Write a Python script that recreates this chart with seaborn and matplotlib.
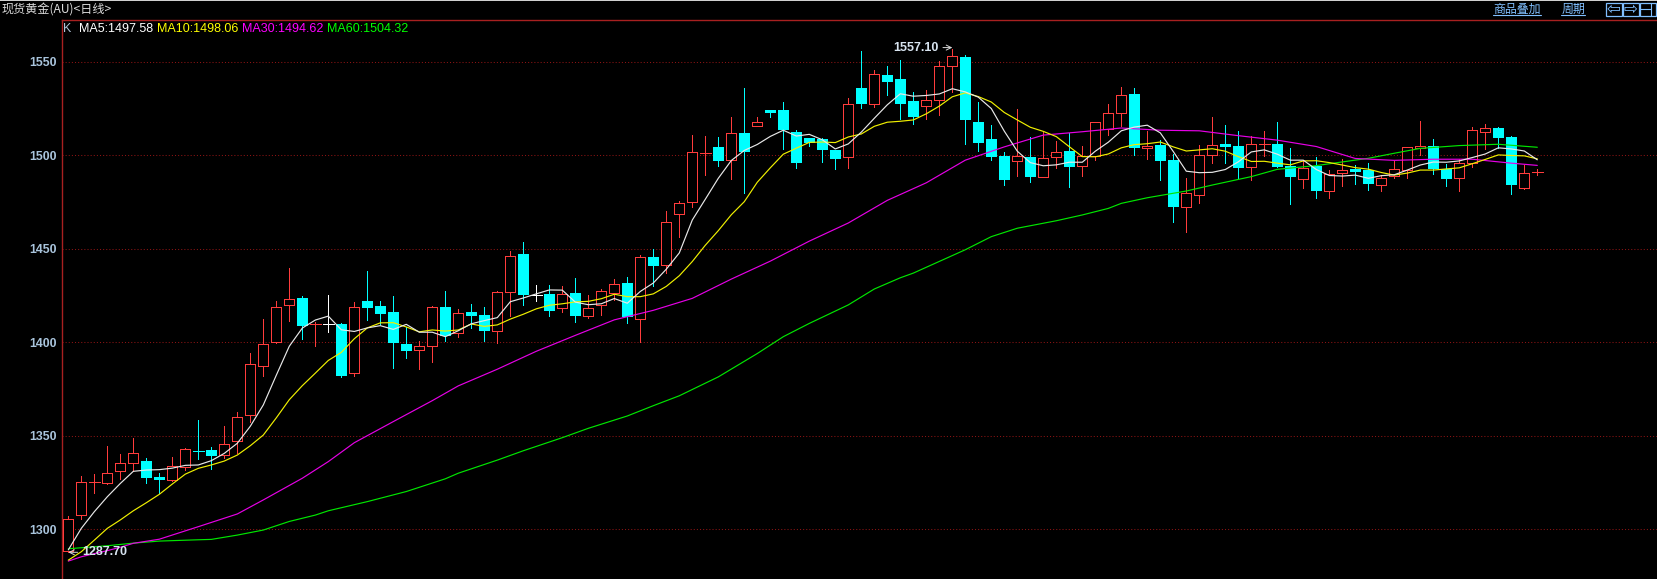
import matplotlib
matplotlib.use("Agg")
import matplotlib.pyplot as plt
from matplotlib.patches import Rectangle
import numpy as np
import pandas as pd
import seaborn as sns

# daily candles
opens = [1288.2, 1307.4, 1325.1, 1324.9, 1331.0, 1335.2, 1336.5, 1327.9, 1326.5, 1333.5,
         1341.8, 1342.2, 1339.9, 1347.0, 1360.9, 1387.1, 1400.3, 1419.8, 1423.5, 1409.6,
         1409.6, 1409.8, 1383.8, 1422.1, 1419.4, 1416.2, 1399.1, 1395.7, 1397.8, 1418.7,
         1404.8, 1416.2, 1414.6, 1406.2, 1426.7, 1447.2, 1425.1, 1425.8, 1418.2, 1426.4,
         1414.2, 1419.8, 1426.5, 1431.7, 1412.6, 1445.6, 1441.2, 1468.8, 1474.8, 1501.0,
         1504.4, 1497.7, 1511.9, 1515.8, 1524.2, 1524.2, 1512.5, 1509.3, 1508.7, 1502.8,
         1499.3, 1536.0, 1527.6, 1543.0, 1540.8, 1529.0, 1526.5, 1529.7, 1547.6, 1552.6,
         1517.8, 1508.7, 1499.6, 1497.1, 1499.1, 1488.6, 1499.3, 1502.3, 1494.5, 1499.5,
         1514.1, 1522.8, 1532.8, 1504.0, 1505.5, 1497.5, 1472.5, 1479.0, 1500.0, 1506.0,
         1505.0, 1493.9, 1505.9, 1506.0, 1494.3, 1487.5, 1494.3, 1481.1, 1490.4, 1492.7,
         1492.1, 1484.3, 1489.1, 1492.3, 1503.7, 1505.0, 1492.7, 1488.0, 1495.7, 1512.6,
         1514.6, 1509.8, 1482.7, 1491.3]
closes = [1305.3, 1325.1, 1325.1, 1329.9, 1335.2, 1340.6, 1327.6, 1326.3, 1333.6, 1342.7,
          1341.8, 1339.3, 1345.8, 1360.2, 1388.2, 1398.9, 1419.1, 1423.0, 1408.9, 1409.6,
          1409.6, 1382.2, 1418.7, 1418.5, 1415.3, 1399.8, 1395.5, 1397.8, 1418.7, 1403.4,
          1415.5, 1414.0, 1406.2, 1426.7, 1446.0, 1425.5, 1425.1, 1416.9, 1426.0, 1414.2,
          1418.5, 1427.3, 1431.0, 1413.7, 1445.4, 1441.0, 1464.2, 1474.6, 1501.6, 1501.0,
          1497.0, 1511.7, 1501.8, 1517.6, 1522.6, 1513.5, 1495.9, 1506.6, 1502.8, 1498.0,
          1527.3, 1527.4, 1543.3, 1539.2, 1527.4, 1520.5, 1529.4, 1547.6, 1552.9, 1518.9,
          1506.6, 1499.1, 1486.8, 1499.5, 1488.4, 1498.4, 1501.6, 1493.8, 1499.5, 1517.6,
          1522.4, 1532.1, 1503.9, 1504.9, 1497.0, 1472.4, 1479.7, 1500.0, 1505.3, 1504.4,
          1493.2, 1505.9, 1505.9, 1493.7, 1488.4, 1493.0, 1480.9, 1490.0, 1492.0, 1491.1,
          1484.6, 1487.9, 1492.5, 1504.3, 1504.8, 1492.7, 1487.3, 1495.7, 1513.3, 1514.4,
          1509.4, 1484.1, 1490.4, 1491.3]
highs = [1307.1, 1328.5, 1329.4, 1344.5, 1340.2, 1348.8, 1338.1, 1329.9, 1338.5, 1343.3,
         1358.2, 1343.8, 1355.2, 1362.5, 1394.1, 1412.4, 1422.1, 1439.7, 1424.8, 1411.0,
         1425.3, 1410.2, 1421.5, 1437.9, 1422.1, 1424.8, 1408.4, 1400.5, 1419.4, 1427.4,
         1417.8, 1420.5, 1418.7, 1427.4, 1448.8, 1453.5, 1430.6, 1430.6, 1430.1, 1434.2,
         1425.3, 1428.3, 1433.7, 1434.9, 1446.7, 1449.9, 1470.0, 1475.5, 1510.8, 1510.3,
         1509.8, 1520.5, 1536.0, 1520.5, 1524.2, 1528.5, 1513.5, 1509.3, 1509.3, 1502.8,
         1530.5, 1555.8, 1545.6, 1547.8, 1551.0, 1533.9, 1534.9, 1550.4, 1557.1, 1553.6,
         1528.5, 1516.2, 1501.8, 1524.8, 1509.8, 1512.6, 1507.7, 1512.0, 1505.0, 1517.6,
         1527.4, 1536.5, 1536.0, 1513.0, 1508.2, 1500.7, 1487.9, 1505.5, 1520.5, 1516.2,
         1513.0, 1510.3, 1513.0, 1517.8, 1503.9, 1497.5, 1499.1, 1492.1, 1498.0, 1494.8,
         1495.9, 1489.5, 1497.0, 1504.3, 1518.3, 1508.7, 1495.3, 1498.0, 1515.1, 1516.7,
         1515.1, 1510.3, 1494.8, 1492.7]
lows = [1287.7, 1305.7, 1319.6, 1324.2, 1326.9, 1331.0, 1324.7, 1319.6, 1326.0, 1331.9,
        1337.6, 1332.4, 1338.3, 1340.9, 1357.5, 1382.2, 1399.8, 1411.6, 1401.9, 1398.2,
        1405.7, 1381.6, 1382.2, 1411.9, 1410.0, 1386.3, 1391.6, 1385.9, 1389.5, 1400.9,
        1403.0, 1407.8, 1400.9, 1399.8, 1414.1, 1420.1, 1422.3, 1414.1, 1416.4, 1411.0,
        1413.0, 1414.6, 1422.6, 1410.5, 1400.3, 1430.3, 1436.9, 1456.3, 1472.3, 1489.4,
        1494.3, 1487.3, 1479.8, 1515.8, 1520.5, 1503.4, 1493.2, 1505.0, 1496.4, 1492.7,
        1493.2, 1525.3, 1525.8, 1532.3, 1519.4, 1516.7, 1519.4, 1521.5, 1533.9, 1506.0,
        1502.3, 1497.5, 1484.1, 1489.0, 1485.7, 1488.6, 1493.2, 1483.0, 1489.0, 1497.5,
        1510.9, 1515.7, 1500.2, 1498.0, 1486.8, 1464.3, 1459.0, 1474.5, 1495.9, 1495.9,
        1487.9, 1486.8, 1499.6, 1493.7, 1474.0, 1482.5, 1477.2, 1477.2, 1483.6, 1484.6,
        1481.4, 1480.9, 1488.0, 1487.9, 1500.2, 1490.0, 1483.6, 1480.9, 1493.7, 1503.4,
        1503.7, 1479.3, 1482.0, 1489.5]
# flat candles take their colour from the screen, not from open/close
doji_colors = {2: "#ff3c3c", 10: "#00ffff", 19: "#ff3c3c", 20: "#ffffff", 36: "#ffffff",
               49: "#ff3c3c", 92: "#ff3c3c", 113: "#ff3c3c"}

ma5 = [1289.0, 1300.5, 1309.4, 1317.4, 1324.5, 1331.0, 1331.7, 1331.9, 1332.7, 1334.2,
       1334.4, 1336.7, 1340.6, 1346.0, 1355.1, 1366.5, 1382.4, 1397.9, 1407.6, 1411.9,
       1414.0, 1406.7, 1405.8, 1407.7, 1408.9, 1406.9, 1409.6, 1405.4, 1405.4, 1403.0,
       1406.2, 1409.9, 1411.6, 1413.2, 1421.7, 1423.7, 1425.9, 1428.0, 1427.9, 1421.5,
       1420.1, 1420.6, 1423.4, 1420.9, 1427.2, 1431.7, 1439.1, 1447.8, 1465.4, 1476.5,
       1487.7, 1497.2, 1502.6, 1505.8, 1510.1, 1513.4, 1510.3, 1511.2, 1508.3, 1503.4,
       1506.1, 1512.4, 1519.8, 1527.0, 1532.9, 1531.6, 1532.0, 1532.8, 1535.6, 1533.9,
       1531.1, 1525.0, 1512.9, 1502.2, 1496.1, 1494.4, 1494.9, 1496.3, 1496.3, 1502.2,
       1507.0, 1513.1, 1515.1, 1516.1, 1512.0, 1502.0, 1491.5, 1490.7, 1490.9, 1492.4,
       1496.5, 1501.8, 1502.9, 1500.6, 1497.4, 1497.4, 1492.4, 1489.2, 1488.9, 1489.4,
       1487.7, 1489.1, 1489.6, 1492.1, 1494.8, 1496.4, 1496.3, 1497.0, 1498.8, 1500.7,
       1504.0, 1503.4, 1502.3, 1497.6]
ma10 = [1283.5, 1288.0, 1294.2, 1300.5, 1305.0, 1309.9, 1314.2, 1318.7, 1324.2, 1329.5,
        1332.6, 1334.4, 1336.5, 1339.7, 1344.7, 1350.4, 1359.6, 1369.3, 1376.8, 1383.5,
        1390.3, 1394.6, 1401.9, 1407.7, 1410.4, 1410.5, 1408.2, 1405.6, 1406.6, 1406.0,
        1406.6, 1409.8, 1408.5, 1409.3, 1412.4, 1415.0, 1417.9, 1419.8, 1420.6, 1421.6,
        1421.9, 1423.3, 1425.7, 1424.4, 1424.4, 1425.9, 1429.9, 1435.6, 1443.2, 1451.9,
        1459.7, 1468.2, 1475.2, 1485.6, 1493.3, 1500.6, 1503.8, 1506.9, 1507.1, 1506.8,
        1509.8, 1511.4, 1515.5, 1517.7, 1518.2, 1518.9, 1522.2, 1526.3, 1531.3, 1533.4,
        1531.4, 1528.5, 1522.9, 1518.9, 1515.0, 1512.8, 1510.0, 1504.6, 1499.3, 1499.2,
        1500.7, 1504.0, 1505.7, 1506.2, 1507.1, 1504.5, 1502.3, 1502.9, 1503.5, 1502.2,
        1499.3, 1496.7, 1496.8, 1495.8, 1494.9, 1497.0, 1497.1, 1496.1, 1494.8, 1493.4,
        1492.6, 1490.8, 1489.4, 1490.5, 1492.1, 1492.1, 1492.7, 1493.3, 1495.5, 1497.8,
        1500.2, 1499.9, 1499.7, 1498.1]
ma30_idx = [0, 1, 2, 3, 4, 5, 7, 10, 13, 15, 18, 20, 22, 25, 28, 30, 33, 36, 39, 42, 45, 48, 51,
            54, 57, 60, 63, 66, 69, 72, 75, 78, 81, 84, 87, 90, 93, 96, 99, 102, 105, 108, 111, 113]
ma30 = [1283.0, 1285.3, 1287.0, 1288.6, 1290.4, 1292.5, 1294.7, 1301.4, 1308.2, 1315.7, 1327.3,
        1336.2, 1346.3, 1357.6, 1368.8, 1376.7, 1385.6, 1395.2, 1403.7, 1412.0, 1417.1, 1423.5,
        1433.8, 1443.4, 1454.1, 1463.8, 1475.9, 1485.3, 1497.4, 1504.5, 1510.8, 1512.6, 1514.6,
        1513.4, 1513.1, 1510.5, 1508.1, 1504.7, 1498.3, 1497.3, 1497.9, 1497.9, 1495.8, 1494.6]
ma60_idx = [0, 3, 5, 7, 10, 11, 13, 15, 17, 19, 20, 23, 26, 29, 30, 33, 35, 38, 40, 43, 45, 47, 50,
            53, 55, 57, 60, 62, 64, 65, 69, 71, 73, 76, 78, 80, 81, 83, 86, 88, 91, 93, 96, 100,
            102, 104, 107, 110, 113]
ma60 = [1289.6, 1291.2, 1292.6, 1293.7, 1294.4, 1294.6, 1296.9, 1299.6, 1304.2, 1307.6, 1309.9,
        1314.8, 1320.2, 1327.0, 1330.0, 1337.0, 1342.0, 1349.0, 1354.0, 1360.6, 1366.1, 1371.4,
        1381.5, 1394.0, 1403.0, 1410.1, 1420.0, 1428.5, 1434.5, 1437.0, 1449.5, 1456.5, 1461.0,
        1465.0, 1468.1, 1471.6, 1474.3, 1477.3, 1480.9, 1484.1, 1488.6, 1492.5, 1494.5, 1498.4,
        1501.1, 1503.7, 1505.2, 1505.9, 1504.3]

yticks = [1300, 1350, 1400, 1450, 1500, 1550]
legend_parts = [("K", 63, "#b0c4d8"), ("MA5:1497.58", 79, "#ffffff"), ("MA10:1498.06", 157, "#ffff00"),
                ("MA30:1494.62", 242, "#ff00ff"), ("MA60:1504.32", 327, "#00ff00")]
title = "现货黄金(AU)<日线>"

RED = "#ff3c3c"
CYAN = "#00ffff"
MENU = "#80bfff"
BORDER = "#a82020"

sns.set_theme(style="dark", rc={"figure.facecolor": "black", "axes.facecolor": "black",
                                "savefig.facecolor": "black"})
plt.rcParams["font.family"] = ["Liberation Sans", "Noto Sans CJK SC", "DejaVu Sans"]

W, H = 1657, 579
fig = plt.figure(figsize=(W / 100, H / 100), dpi=100)
ax = fig.add_axes([62 / W, 0, 1 - 62 / W, (H - 19.5) / H])

o, c, h, l = map(np.array, (opens, closes, highs, lows))
x = np.arange(len(o))
up = c > o
down = c < o
flat = c == o

# wicks sit under the hollow bodies, one crisp pixel wide
PX = 0.7
wick_colors = [doji_colors[i] if flat[i] else (RED if up[i] else CYAN) for i in x]
ax.vlines(x, l, h, colors=wick_colors, linewidth=PX, antialiased=False, zorder=2)
ax.bar(x[up], (c - o)[up], bottom=o[up], width=0.76, facecolor="black", edgecolor=RED,
       linewidth=PX, antialiased=False, zorder=3)
ax.bar(x[down], (o - c)[down], bottom=c[down], width=0.84, color=CYAN, linewidth=0,
       antialiased=False, zorder=3)
ax.hlines(c[flat], x[flat] - 0.42, x[flat] + 0.42, colors=[doji_colors[i] for i in x[flat]],
          linewidth=PX, antialiased=False, zorder=3)

# moving averages on top of the candles
lines = [(ma60_idx, ma60, "#00e600"), (ma30_idx, ma30, "#e600e6"), (x, ma10, "#f0f000"), (x, ma5, "#e8e8e8")]
for xs, ys, col in lines:
    df = pd.DataFrame({"day": xs, "value": ys})
    sns.lineplot(data=df, x="day", y="value", color=col, linewidth=0.85, estimator=None,
                 errorbar=None, legend=False, ax=ax, zorder=4)

ax.set_xlim((62 - 68.3) / 13, (W - 68.3) / 13)
ax.set_ylim(1300 - (H - 529.3) / 1.87, 1300 + (529.3 - 19.5) / 1.87)
ax.set_xlabel("")
ax.set_ylabel("")
ax.set_xticks([])
ax.set_yticks(yticks)
ax.tick_params(axis="y", length=0, pad=3.5, labelsize=8.8, labelcolor="#a9c4dc")
for lab in ax.get_yticklabels():
    lab.set_fontweight("bold")
ax.yaxis.grid(True, color="#8c1414", linestyle=(0, (1, 2)), linewidth=0.75, zorder=1)
ax.xaxis.grid(False)
ax.set_axisbelow(True)
for side, spine in ax.spines.items():
    spine.set_visible(side in ("left", "top"))
    spine.set_color(BORDER)
    spine.set_linewidth(1.0)

# high / low markers
ax.annotate("1557.10", xy=(68, highs[68] + 0.5), xytext=(-14, 0), textcoords="offset pixels",
            ha="right", va="center", color="#d8e4f0", fontsize=9, fontweight="bold", zorder=6,
            arrowprops=dict(arrowstyle="->", color="#d8d8d8", lw=0.7, shrinkA=1, shrinkB=0))
ax.annotate("1287.70", xy=(0, lows[0]), xytext=(14, 0), textcoords="offset pixels",
            ha="left", va="center", color="#d8e4f0", fontsize=9, fontweight="bold", zorder=6,
            arrowprops=dict(arrowstyle="->", color="#d8d8d8", lw=0.7, shrinkA=1, shrinkB=0))

# screen furniture in pixel coordinates
ov = fig.add_axes([0, 0, 1, 1], zorder=10)
ov.set_xlim(0, W)
ov.set_ylim(H, 0)
ov.axis("off")
ov.add_patch(Rectangle((0, 0), W, 1.2, color="#d0d0d0", linewidth=0))
ov.text(2, 10, title, color="#dcdcdc", fontsize=8.7, va="center", ha="left",
        family=["Noto Sans CJK SC", "DejaVu Sans"])
for txt, px, col in legend_parts:
    ov.text(px, 29.5, txt, color=col, fontsize=9, va="center", ha="left")

for txt, x0, x1 in [("商品叠加", 1493, 1541), ("周期", 1561, 1585)]:
    ov.text((x0 + x1) / 2, 9, txt, color=MENU, fontsize=8.6, va="center", ha="center",
            family=["Noto Sans CJK SC", "DejaVu Sans"])
    ov.plot([x0, x1], [15.3, 15.3], color=MENU, linewidth=0.8)

for bx, glyph in [(1606, "\u21e6"), (1623, "\u21e8"), (1640, None)]:
    ov.add_patch(Rectangle((bx, 2.5), 15.5, 13, fill=False, edgecolor=MENU, linewidth=0.9))
    if glyph:
        ov.text(bx + 7.8, 8.5, glyph, color=MENU, fontsize=12, va="center", ha="center",
                family="DejaVu Sans")
ov.plot([1640, 1651], [9, 9], color=MENU, linewidth=0.8)
ov.plot([1651, 1651], [2.5, 15.5], color=MENU, linewidth=0.8)

fig.savefig("out.png", dpi=100)
